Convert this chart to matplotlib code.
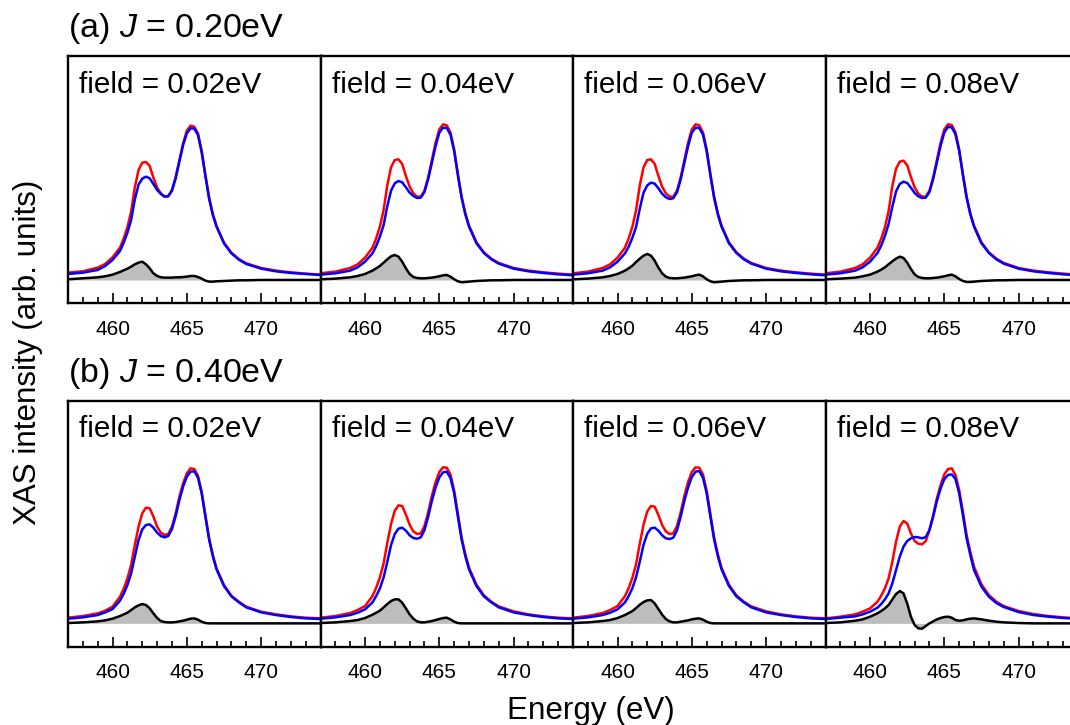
import matplotlib
matplotlib.use('Agg')
import matplotlib.pyplot as plt
from matplotlib.ticker import MultipleLocator

plt.rcParams['font.family'] = ['Liberation Sans', 'DejaVu Sans']
plt.rcParams['mathtext.fontset'] = 'custom'
plt.rcParams['mathtext.it'] = 'Liberation Sans:italic'
plt.rcParams['mathtext.rm'] = 'Liberation Sans'

# ---------------- data (arb. units) ----------------
energy = [457, 458, 459, 459.5, 460, 460.5, 460.75, 461, 461.25, 461.5, 461.75,
          462, 462.25, 462.5, 462.75, 463, 463.25, 463.5, 463.75, 464, 464.25,
          464.5, 464.75, 465, 465.25, 465.5, 465.75, 466, 466.25, 466.5, 466.75,
          467, 467.5, 468, 468.5, 469, 470, 471, 472, 473, 474]

fields = [0.02, 0.04, 0.06, 0.08]
row_titles = ['(a) $J$ = 0.20eV', '(b) $J$ = 0.40eV']

# Row (a) J = 0.20 eV
red_a1 = [22, 26, 37, 48, 68, 97, 124, 158, 205, 278, 330,
          352, 354, 342, 307, 277, 260, 251, 252, 270, 310,
          360, 410, 448, 463, 460, 440, 388, 315, 248, 198,
          162, 112, 82, 63, 50, 36, 28, 23, 19, 16]
blue_a1 = [18, 22, 30, 42, 60, 87, 112, 142, 180, 242, 286,
           304, 310, 305, 288, 270, 258, 250, 251, 268, 305,
           355, 405, 440, 455, 454, 435, 383, 312, 244, 195,
           160, 110, 80, 61, 48, 34, 26, 21, 18, 15]
diff_a1 = [2, 5, 8, 11, 16, 24, 29, 34, 40, 47, 52,
           55, 47, 35, 20, 12, 8, 7, 7, 7, 8,
           8, 9, 10, 12, 12, 9, 4, -2, -5, -5,
           -4, -3, -2, -1, -1, 0, 0, 0, 0, 0]

red_a2 = [20, 25, 36, 47, 67, 97, 125, 160, 210, 285, 338,
          360, 362, 348, 312, 280, 260, 250, 250, 268, 308,
          360, 412, 452, 467, 464, 443, 392, 318, 250, 200,
          163, 113, 83, 64, 51, 36, 28, 23, 19, 16]
blue_a2 = [16, 20, 28, 38, 55, 80, 102, 130, 165, 222, 268,
           290, 297, 293, 278, 262, 252, 246, 247, 264, 303,
           352, 402, 442, 457, 456, 436, 386, 314, 247, 197,
           160, 110, 81, 62, 49, 34, 26, 21, 17, 14]
diff_a2 = [2, 4, 8, 12, 18, 28, 35, 42, 52, 62, 71,
           75, 70, 55, 35, 18, 9, 6, 5, 5, 6,
           7, 9, 11, 14, 15, 10, 2, -4, -7, -6,
           -5, -3, -2, -1, -1, 0, 0, 0, 0, 0]

red_a3 = [20, 25, 36, 47, 67, 97, 125, 160, 210, 285, 338,
          360, 362, 348, 312, 280, 260, 250, 250, 268, 308,
          360, 412, 452, 467, 464, 443, 392, 318, 250, 200,
          163, 113, 83, 64, 51, 36, 28, 23, 19, 16]
blue_a3 = [16, 20, 28, 38, 55, 80, 100, 127, 160, 215, 262,
           284, 292, 289, 275, 259, 248, 243, 245, 263, 302,
           352, 402, 442, 457, 456, 436, 386, 314, 247, 197,
           160, 110, 81, 62, 49, 34, 26, 21, 17, 14]
diff_a3 = [2, 4, 8, 12, 18, 28, 35, 43, 54, 64, 73,
           78, 73, 58, 37, 20, 10, 6, 5, 5, 6,
           7, 9, 11, 14, 16, 11, 2, -4, -7, -6,
           -5, -3, -2, -1, -1, 0, 0, 0, 0, 0]

red_a4 = [20, 25, 36, 47, 67, 97, 124, 158, 207, 282, 334,
          355, 358, 344, 309, 278, 259, 250, 250, 268, 308,
          360, 412, 452, 467, 465, 443, 392, 318, 250, 200,
          163, 113, 83, 64, 51, 36, 28, 23, 19, 16]
blue_a4 = [16, 20, 28, 38, 55, 81, 103, 132, 168, 220, 266,
           288, 295, 291, 277, 261, 251, 246, 247, 264, 303,
           353, 403, 443, 459, 458, 437, 387, 315, 247, 197,
           160, 110, 81, 62, 49, 34, 26, 21, 17, 14]
diff_a4 = [2, 4, 7, 11, 16, 25, 31, 38, 47, 56, 64,
           70, 66, 52, 33, 17, 9, 6, 5, 5, 6,
           7, 9, 11, 14, 16, 11, 3, -3, -6, -6,
           -5, -3, -2, -1, -1, 0, 0, 0, 0, 0]

# Row (b) J = 0.40 eV
red_b1 = [17, 22, 30, 38, 50, 80, 104, 135, 175, 235, 290,
          330, 347, 345, 320, 290, 272, 265, 268, 290, 330,
          380, 420, 450, 465, 463, 443, 395, 325, 255, 205,
          165, 115, 83, 65, 50, 35, 27, 21, 17, 15]
blue_b1 = [14, 18, 25, 33, 43, 68, 89, 115, 150, 200, 250,
           282, 295, 297, 287, 272, 262, 258, 262, 283, 322,
           370, 410, 440, 455, 456, 437, 390, 320, 252, 202,
           162, 112, 81, 63, 48, 33, 25, 19, 15, 13]
diff_b1 = [1, 3, 6, 9, 14, 22, 27, 32, 40, 48, 54,
           58, 55, 45, 30, 16, 7, 4, 3, 3, 4,
           6, 8, 11, 14, 15, 11, 5, 1, 0, 0,
           0, 0, 0, 0, 0, 0, 0, 0, 0, 0]

red_b2 = [17, 22, 31, 40, 52, 82, 107, 138, 180, 242, 298,
          338, 354, 352, 326, 296, 276, 268, 270, 292, 333,
          383, 424, 454, 468, 467, 447, 398, 328, 258, 207,
          167, 116, 84, 65, 51, 36, 27, 21, 17, 15]
blue_b2 = [14, 18, 25, 32, 42, 63, 82, 105, 138, 185, 235,
           268, 284, 287, 278, 264, 256, 254, 258, 280, 320,
           368, 408, 438, 453, 455, 436, 390, 320, 252, 202,
           162, 112, 81, 63, 48, 33, 25, 19, 15, 13]
diff_b2 = [1, 3, 7, 10, 16, 26, 32, 38, 48, 58, 67,
           72, 72, 62, 45, 27, 14, 6, 3, 3, 5,
           7, 10, 13, 16, 17, 12, 5, 1, 0, 0,
           0, 0, 0, 0, 0, 0, 0, 0, 0, 0]

red_b3 = [17, 22, 31, 40, 52, 82, 106, 137, 178, 240, 296,
          336, 352, 350, 325, 295, 276, 268, 270, 292, 333,
          383, 424, 454, 468, 467, 447, 398, 328, 258, 207,
          167, 116, 84, 65, 51, 36, 27, 21, 17, 15]
blue_b3 = [14, 18, 25, 32, 42, 63, 82, 106, 139, 186, 236,
           269, 285, 287, 278, 264, 255, 253, 257, 279, 320,
           368, 408, 439, 455, 457, 437, 390, 320, 252, 202,
           162, 112, 81, 63, 48, 33, 25, 19, 15, 13]
diff_b3 = [1, 3, 7, 10, 16, 25, 31, 37, 46, 56, 64,
           69, 70, 60, 43, 26, 13, 6, 3, 3, 5,
           7, 9, 12, 14, 15, 11, 5, 1, 0, 0,
           0, 0, 0, 0, 0, 0, 0, 0, 0, 0]

red_b4 = [15, 20, 27, 35, 45, 65, 83, 105, 135, 185, 245,
          290, 307, 300, 270, 247, 239, 237, 247, 280, 325,
          375, 415, 447, 463, 465, 445, 400, 335, 265, 215,
          170, 117, 85, 65, 52, 37, 28, 22, 18, 15]
blue_b4 = [13, 17, 21, 27, 35, 47, 58, 72, 90, 120, 160,
           200, 230, 247, 255, 259, 258, 255, 259, 280, 320,
           367, 405, 433, 445, 447, 433, 390, 325, 255, 205,
           160, 110, 80, 61, 49, 34, 25, 20, 16, 14]
diff_b4 = [1, 3, 8, 12, 20, 30, 37, 45, 55, 72, 88,
           97, 90, 60, 20, -5, -15, -16, -8, 0, 6,
           12, 16, 19, 20, 17, 10, 8, 9, 12, 14,
           15, 12, 8, 5, 3, 1, 0, 0, 0, 0]

rows = [
    [(red_a1, blue_a1, diff_a1), (red_a2, blue_a2, diff_a2),
     (red_a3, blue_a3, diff_a3), (red_a4, blue_a4, diff_a4)],
    [(red_b1, blue_b1, diff_b1), (red_b2, blue_b2, diff_b2),
     (red_b3, blue_b3, diff_b3), (red_b4, blue_b4, diff_b4)],
]

# ---------------- layout ----------------
W, H = 1070, 725
fig = plt.figure(figsize=(W / 100, H / 100), dpi=100)

lefts_px = [68, 320.5, 573, 825.5]
panel_w = 252.5
row_box = [(56, 303.3), (401, 646.7)]   # (top, bottom) in px
row_ylim = [(-70, 672), (-70, 667)]
title_base = [36.7, 381.7]

for r, panels in enumerate(rows):
    top, bot = row_box[r]
    for c, (red, blue, diff) in enumerate(panels):
        ax = fig.add_axes([lefts_px[c] / W, (H - bot) / H, panel_w / W, (bot - top) / H])
        ax.fill_between(energy, 0, diff, color='#bdbdbd', lw=0)
        ax.plot(energy, red, color='#ff0000', lw=1.8, solid_joinstyle='round')
        ax.plot(energy, blue, color='#0000ff', lw=1.8, solid_joinstyle='round')
        ax.plot(energy, diff, color='black', lw=1.8, solid_joinstyle='round')
        ax.set_xlim(457, 474)
        ax.set_ylim(*row_ylim[r])
        ax.set_yticks([])
        ax.xaxis.set_major_locator(MultipleLocator(5))
        ax.xaxis.set_minor_locator(MultipleLocator(1))
        ax.tick_params(axis='x', which='major', direction='in', length=7.2,
                       width=1.2, labelsize=15, pad=12)
        ax.tick_params(axis='x', which='minor', direction='in', length=4.3, width=1.2)
        for s in ax.spines.values():
            s.set_linewidth(1.7)
        ax.text(11.3 / panel_w, 0.852, f'field = {fields[c]:.2f}eV',
                transform=ax.transAxes, fontsize=21.3, ha='left', va='baseline')
    fig.text(68 / W, (H - title_base[r]) / H, row_titles[r], fontsize=24.5,
             ha='left', va='baseline')

fig.text(28 / W, 1 - 352 / H, 'XAS intensity (arb. units)', rotation=90,
         fontsize=22.6, ha='center', va='center')
fig.text(591 / W, (H - 719.5) / H, 'Energy (eV)', fontsize=22.6,
         ha='center', va='baseline')

fig.savefig('out.png', dpi=100)
